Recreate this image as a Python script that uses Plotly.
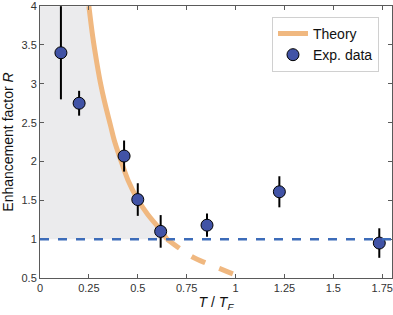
import plotly.graph_objects as go

# Experimental data
exp_x = [0.107, 0.20, 0.43, 0.50, 0.617, 0.854, 1.224, 1.735]
exp_y = [3.40, 2.75, 2.07, 1.51, 1.10, 1.18, 1.61, 0.95]
exp_err = [0.60, 0.16, 0.20, 0.21, 0.21, 0.15, 0.20, 0.19]

# Theory curve (solid part, above R = 1)
theory_x = [0.25, 0.27, 0.29, 0.31, 0.33, 0.36, 0.38, 0.41, 0.45, 0.50, 0.55, 0.60, 0.65]
theory_y = [4.00, 3.60, 3.28, 3.00, 2.77, 2.47, 2.27, 2.04, 1.76, 1.51, 1.32, 1.17, 1.00]
# Theory curve (dashed continuation, below R = 1)
theory_dash_x = [0.65, 0.72, 0.78, 0.85, 0.92, 0.98, 1.04]
theory_dash_y = [1.00, 0.87, 0.77, 0.69, 0.62, 0.56, 0.50]

baseline = 1.0
x_ticks = [0, 0.25, 0.5, 0.75, 1, 1.25, 1.5, 1.75]
x_ticklabels = ["0", "0.25", "0.5", "0.75", "1", "1.25", "1.5", "1.75"]
y_ticks = [0.5, 1, 1.5, 2, 2.5, 3, 3.5, 4]
y_ticklabels = ["0.5", "1", "1.5", "2", "2.5", "3", "3.5", "4"]

orange = "#F0B880"
marker_blue = "#4153A6"
line_blue = "#3D6CB9"
axis_gray = "#5a5a5a"
FONT = "Liberation Sans, Arial, sans-serif"

fig = go.Figure()

# shaded region: left of theory curve, above R = 1
fig.add_trace(go.Scatter(
    x=[0, 0] + theory_x, y=[baseline, max(theory_y)] + theory_y,
    fill="toself", fillcolor="#EBEBED", line=dict(width=0),
    mode="lines", showlegend=False, hoverinfo="skip"))

fig.add_hline(y=baseline, line=dict(color=line_blue, width=2.5, dash="dash"), layer="above")

fig.add_trace(go.Scatter(
    x=theory_dash_x, y=theory_dash_y, mode="lines",
    line=dict(color=orange, width=5, dash="dash", shape="spline"),
    showlegend=False, hoverinfo="skip"))

fig.add_trace(go.Scatter(
    x=theory_x, y=theory_y, mode="lines", name="Theory",
    line=dict(color=orange, width=5, shape="spline")))

fig.add_trace(go.Scatter(
    x=exp_x, y=exp_y, mode="markers", name="Exp. data",
    marker=dict(size=12, color=marker_blue, line=dict(color="black", width=1)),
    error_y=dict(type="data", array=exp_err, color="black", thickness=2, width=0)))

axis_common = dict(
    showline=True, linecolor=axis_gray, linewidth=1, mirror="ticks",
    ticks="inside", ticklen=4, tickcolor=axis_gray, showgrid=False, zeroline=False,
    automargin=False, ticklabeloverflow="allow",
    tickfont=dict(family=FONT, size=11, color="#333"),
)

fig.update_xaxes(range=[0, 1.8], tickvals=x_ticks, ticktext=x_ticklabels,
                 title=dict(text="<i>T</i> / <i>T</i><sub><i>F</i></sub>",
                            font=dict(family=FONT, size=14, color="#111"),
                            standoff=0),
                 **axis_common)
fig.update_yaxes(range=[0.5, 4.002], tickvals=y_ticks, ticktext=y_ticklabels,
                 title=dict(text="Enhancement factor <i>R</i>",
                            font=dict(family=FONT, size=14, color="#111"),
                            standoff=8),
                 **axis_common)

fig.update_layout(
    width=393, height=315,
    margin=dict(l=40, r=1, t=6, b=37),
    plot_bgcolor="white", paper_bgcolor="white",
    font=dict(family=FONT, color="#111"),
    legend=dict(x=0.963, y=0.96, xanchor="right", yanchor="top",
                bgcolor="white", bordercolor="#d0d0d0", borderwidth=1,
                font=dict(size=14, color="#111"), itemwidth=30, tracegroupgap=0),
)

fig.write_html("out.html", config={"displayModeBar": False},
               post_script="document.body.style.margin='0';document.body.style.padding='0';")
